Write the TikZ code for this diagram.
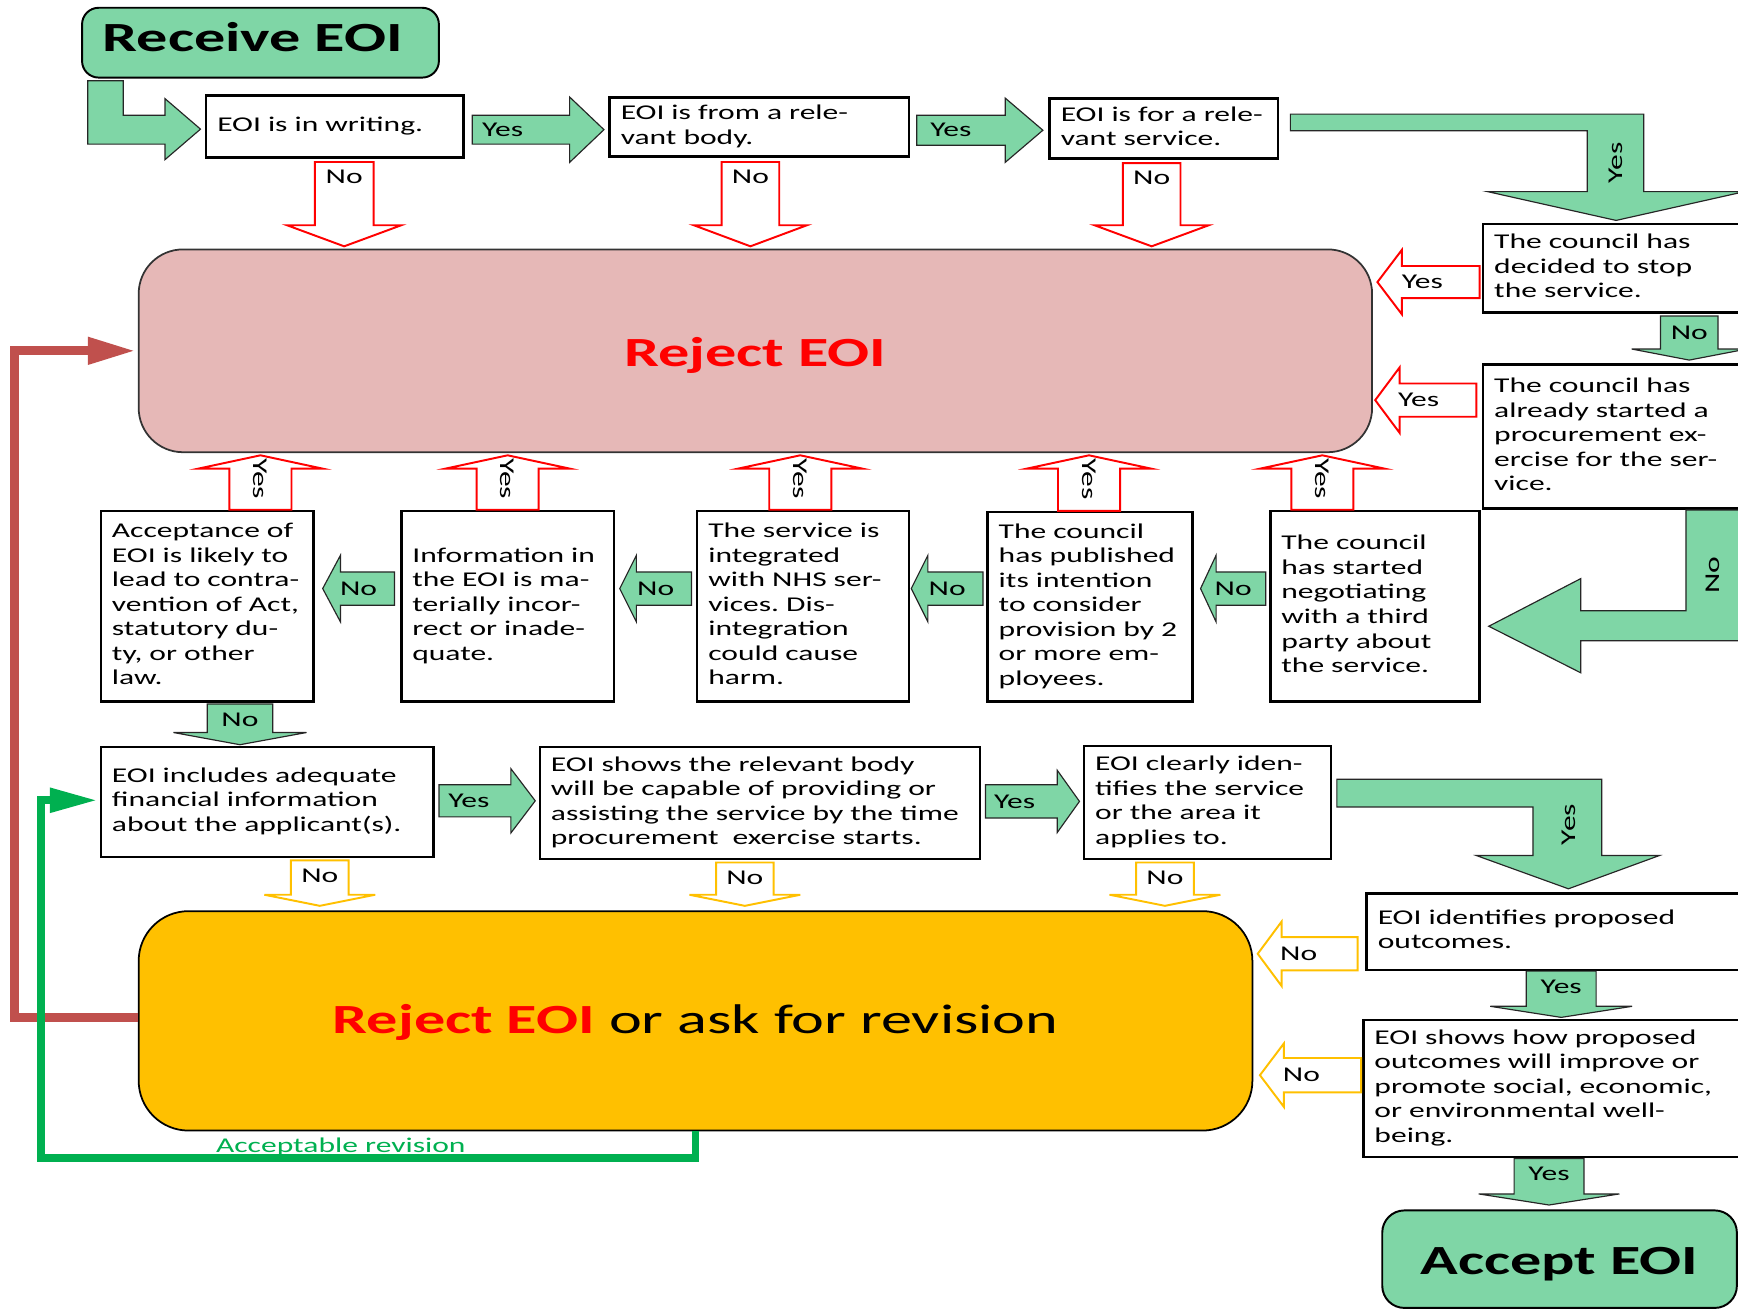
\documentclass[tikz,border=0pt]{standalone}
\usepackage{fontspec}
\setmainfont{Carlito}[FakeStretch=1.5]
\usetikzlibrary{positioning,calc}
\usetikzlibrary{arrows.meta}
\definecolor{ArrowGreen}{RGB}{127,214,166}
\definecolor{RejectPink}{RGB}{230,184,183}
\definecolor{ReviseAmber}{RGB}{255,192,0}
\definecolor{LoopRed}{RGB}{192,80,77}
\definecolor{LoopGreen}{RGB}{0,176,80}
\frenchspacing
\newcommand{\px}{0.02cm}
\newcommand{\boxfont}{\fontsize{10.8}{12.6}\selectfont}
\newcommand{\headfont}{\fontsize{21.3}{25}\selectfont\bfseries}
\newcommand{\boxlines}[1]{\begin{tabular}{@{}l@{}}#1\end{tabular}}
% block arrow: style, start, tip, shaft half width, head half width, head length, label pos, label options, label
\newcommand{\blockarrow}[9]{%
	\coordinate (bs) at (#2);
	\coordinate (bt) at (#3);
	\coordinate (bh) at ($(bt)!#6*\px!(bs)$);
	\draw[#1] ($(bs)!#4*\px!90:(bt)$) -- ($(bh)!#4*\px!90:(bt)$) -- ($(bh)!#5*\px!90:(bt)$) -- (bt)
		-- ($(bh)!#5*\px!-90:(bt)$) -- ($(bh)!#4*\px!-90:(bt)$) -- ($(bs)!#4*\px!-90:(bt)$) -- cycle;
	\path (bs) -- (bt) node[lbl,pos=#7,#8] {#9};
}
\tikzset{
	box/.style={draw=black,line width=1.3pt,fill=white,align=left,inner xsep=0.2cm,inner ysep=0pt,font=\boxfont},
	term/.style={draw=black,line width=1pt,fill=ArrowGreen,rounded corners=0.3cm,font=\headfont},
	rejectbox/.style={draw=black!80,line width=0.9pt,fill=RejectPink,rounded corners=0.8cm,font=\headfont,text=red},
	revisebox/.style={draw=black,line width=0.9pt,fill=ReviseAmber,rounded corners=0.9cm,font=\headfont\mdseries},
	garrow/.style={draw=black!85,line width=0.6pt,fill=ArrowGreen},
	rarrow/.style={draw=red,line width=1pt,fill=white},
	yarrow/.style={draw=ReviseAmber,line width=1pt,fill=white},
	lbl/.style={font=\boxfont,inner sep=0pt},
	redloop/.style={draw=LoopRed,line width=4.5pt,-{Triangle[length=0.86cm,width=0.46cm]}},
	greenloop/.style={draw=LoopGreen,line width=4pt,-{Triangle[length=0.86cm,width=0.42cm]}},
}

\begin{document}
\begin{tikzpicture}[x=0.02cm,y=-0.02cm]
	\useasboundingbox (0,0) rectangle (1568,1182);
	\clip (0,0) rectangle (1568,1182);
	% first checks
	\node[term,minimum width=6.44cm,minimum height=1.26cm,text depth=0.2cm] (recv) at (235,38.5) {Receive EOI\hspace*{0.28cm}};
	\node[box,text width=4.24cm,minimum height=1.12cm] (w1) at (302,114) {\boxlines{EOI is in writing.}};
	\node[box,text width=5.00cm,minimum height=1.06cm] (w2) at (685,114.5) {\boxlines{EOI is from a rele-\\vant body.}};
	\node[box,text width=3.72cm,minimum height=1.08cm] (w3) at (1050,116) {\boxlines{EOI is for a rele-\\vant service.}};
	\node[box,text width=4.44cm,minimum height=1.60cm] (stop) at (1459,242) {\boxlines{The council has\\decided to stop\\the service.}};
	\node[box,text width=4.44cm,minimum height=2.60cm] (procure) at (1459,394) {\boxlines{The council has\\already started a\\procurement ex-\\ercise for the ser-\\vice.}};
	\node[rejectbox,minimum width=22.26cm,minimum height=3.66cm,text height=0.68cm] (rej) at (681.5,316.5) {Reject EOI};
	% second row
	\node[box,text width=3.44cm,minimum height=3.44cm] (contra) at (187,547) {\boxlines{Acceptance of\\EOI is likely to\\lead to contra-\\vention of Act,\\statutory du-\\ty, or other\\law.}};
	\node[box,text width=3.44cm,minimum height=3.44cm] (info) at (458,547) {\boxlines{Information in\\the EOI is ma-\\terially incor-\\rect or inade-\\quate.}};
	\node[box,text width=3.42cm,minimum height=3.44cm] (nhs) at (724.5,547) {\boxlines{The service is\\integrated\\with NHS ser-\\vices. Dis-\\integration\\could cause\\harm.}};
	\node[box,text width=3.30cm,minimum height=3.42cm] (publ) at (983.5,547.5) {\boxlines{The council\\has published\\its intention\\to consider\\provision by 2\\or more em-\\ployees.}};
	\node[box,text width=3.38cm,minimum height=3.44cm] (third) at (1240.5,547) {\boxlines{The council\\has started\\negotiating\\with a third\\party about\\the service.}};
	% third row
	\node[box,text width=5.60cm,minimum height=1.98cm] (fin) at (241,723.5) {\boxlines{EOI includes adequate\\financial information\\about the applicant(s).}};
	\node[box,text width=7.54cm,minimum height=2.02cm] (cap) at (685.5,724.5) {\boxlines{EOI shows the relevant body\\will be capable of providing or\\assisting the service by the time\\procurement\ \ exercise starts.}};
	\node[box,text width=4.06cm,minimum height=2.04cm] (area) at (1089.5,724) {\boxlines{EOI clearly iden-\\tifies the service\\or the area it\\applies to.}};
	\node[box,text width=6.54cm,minimum height=1.38cm] (outc) at (1406.5,840.5) {\boxlines{EOI identifies proposed\\outcomes.}};
	\node[box,text width=6.60cm,minimum height=2.48cm] (wellb) at (1405,982) {\boxlines{EOI shows how proposed\\outcomes will improve or\\promote social, economic,\\or environmental well-\\being.}};
	\node[revisebox,minimum width=20.1cm,minimum height=3.96cm,text height=0.6cm] (revis) at (627.5,921) {{\color{red}\bfseries Reject EOI} or ask for revision};
	\node[term,rounded corners=0.4cm,minimum width=6.4cm,minimum height=1.76cm,text height=0.68cm] (accept) at (1407,1136) {Accept EOI};

	% bent arrows
	\draw[garrow] ($(recv.south west)+(6,2)$) -- ++(32,0) |- ($(w1.west)+(-36,-10)$) -- ++(0,-15) -- ($(w1.west)+(-4,2.5)$) -- ++(-32,27.5) -- ++(0,-14) -| ($(recv.south west)+(6,2)$) -- cycle;
	\draw[garrow] ($(w3.east)+(10,-13)$) -| ($(stop.north)+(24,-28)$) -- ++(91,0) -- ($(stop.north)+(-1,-2)$) -- ++(-116,-26) -- ++(90,0) |- ($(w3.east)+(10,2)$) -- cycle;
	\node[lbl,rotate=90] (yesstop) at ($(stop.north)+(-1,-54)$) {Yes};
	\draw[garrow] ($(procure.south)+(62,0)$) -- ++(59,0) |- ($(third.east)+(90,31)$) -- ++(0,29) -- ($(third.east)+(7,18)$) -- ++(83,-43) -- ++(0,29) -| ($(procure.south)+(62,0)$) -- cycle;
	\node[lbl,rotate=90] (nothird) at ($(procure.south)+(86,59)$) {No};
	\draw[garrow] ($(area.east)+(4,-21)$) -| ($(outc.north)+(38.5,-33)$) -- ++(52,0) -- ($(outc.north)+(8.5,-3)$) -- ++(-83,-30) -- ++(51,0) |- ($(area.east)+(4,4)$) -- cycle;
	\node[lbl,rotate=90] (yesoutc) at ($(outc.north)+(8.5,-61)$) {Yes};

	% straight arrows
	\blockarrow{garrow}{$(w1.east)+(7,3)$}{$(w2.west)+(-4,2.5)$}{13}{29.5}{31}{0.23}{}{Yes}
	\blockarrow{garrow}{$(w2.east)+(6,3)$}{$(w3.west)+(-5,1.5)$}{13.5}{29}{34}{0.27}{}{Yes}
	\blockarrow{rarrow}{$(w1.south)+(8.5,3)$}{$(rej.north -| w1.south)+(8.5,-2)$}{26.5}{51.5}{19}{0.18}{}{No}
	\blockarrow{rarrow}{$(w2.south)+(-8,4)$}{$(rej.north -| w2.south)+(-8,-2)$}{26}{51}{19}{0.18}{}{No}
	\blockarrow{rarrow}{$(w3.south)+(-11,3)$}{$(rej.north -| w3.south)+(-11,-2)$}{26}{51.5}{19}{0.18}{}{No}
	\blockarrow{rarrow}{$(stop.west)+(-2,12.5)$}{$(rej.east |- stop.west)+(4,12.5)$}{14.5}{29}{22}{0.56}{}{Yes}
	\blockarrow{rarrow}{$(procure.west)+(-5,-33)$}{$(rej.east |- procure.west)+(2,-33)$}{15}{29.5}{22}{0.57}{}{Yes}
	\blockarrow{garrow}{$(stop.south)+(65,2)$}{$(procure.north)+(65,-3)$}{26}{52}{10}{0.37}{}{No}
	\foreach \b/\dx in {contra/48,info/0,nhs/-2.5,publ/-1,third/-47.5}
		\blockarrow{rarrow}{$(\b.north)+(\dx,0)$}{$(rej.south -| \b.north)+(\dx,2)$}{28}{56}{12}{0.57}{rotate=-90}{Yes};
	\blockarrow{garrow}{$(third.west)+(-3,-16)$}{$(publ.east)+(6,-16.5)$}{15}{30}{14}{0.5}{}{No}
	\blockarrow{garrow}{$(publ.west)+(-3,-16.5)$}{$(nhs.east)+(1,-16)$}{15}{30}{15}{0.5}{}{No}
	\blockarrow{garrow}{$(nhs.west)+(-4,-16)$}{$(info.east)+(4,-16)$}{15}{30}{15}{0.5}{}{No}
	\blockarrow{garrow}{$(info.west)+(-5,-16)$}{$(contra.east)+(7,-16)$}{15}{30}{16}{0.5}{}{No}
	\blockarrow{garrow}{$(contra.south)+(29.5,1)$}{$(fin.north)+(-24.5,-1)$}{29.5}{60}{11}{0.38}{}{No}
	\blockarrow{garrow}{$(fin.east)+(4,-1)$}{$(cap.west)+(-3,-2)$}{14.5}{29}{22}{0.31}{}{Yes}
	\blockarrow{garrow}{$(cap.east)+(4,-1.5)$}{$(area.west)+(-3,-1)$}{15}{28}{20}{0.31}{}{Yes}
	\foreach \b/\dx in {fin/47.5,cap/-13.5,area/-38.5}
		\blockarrow{yarrow}{$(\b.south)+(\dx,2)$}{$(revis.north -| \b.south)+(\dx,-4)$}{26}{50}{10}{0.35}{}{No};
	\blockarrow{yarrow}{$(outc.west)+(-7,20)$}{$(revis.east |- outc.west)+(4,20)$}{15}{29}{21.5}{0.59}{}{No}
	\blockarrow{yarrow}{$(wellb.west)+(-1,-12)$}{$(revis.east |- wellb.west)+(6,-12)$}{15.5}{28.5}{21.5}{0.59}{}{No}
	\blockarrow{garrow}{$(outc.south)+(2,0)$}{$(wellb.north)+(3.5,-1)$}{31.5}{64}{10}{0.34}{}{Yes}
	\blockarrow{garrow}{$(wellb.south)+(-7.5,0)$}{$(accept.north)+(-9.5,-4)$}{31.5}{63.5}{10}{0.32}{}{Yes}

	% loops back
	\draw[redloop] ($(revis.west)+(0,-3)$) -| ($(rej.west)+(-111,0)$) -- ($(rej.west)+(-2,0)$);
	\draw[greenloop] (revis.south) -- ++(0,24) -| ($(fin.west)+(-53,-1.5)$) -- ($(fin.west)+(-2,-1.5)$);
	\node[lbl,text=LoopGreen] (accrev) at ($(revis.south)+(-320,14)$) {Acceptable revision};
\end{tikzpicture}
\end{document}
